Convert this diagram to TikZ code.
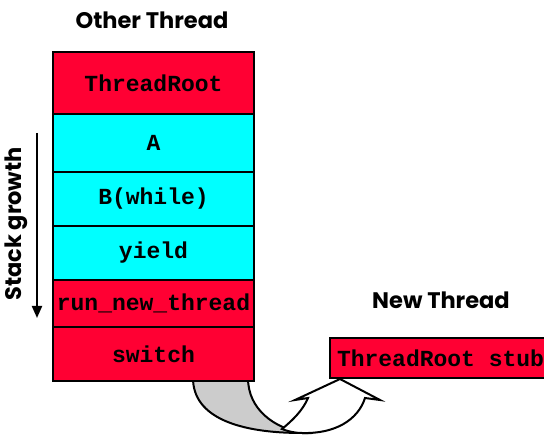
\documentclass[tikz,border=0pt]{standalone}
\usepackage{fontspec}
\setmonofont{Liberation Mono}
\newfontfamily\labelfont{Poppins}
\usetikzlibrary{arrows.meta}
\definecolor{stackred}{RGB}{255,0,51}
\definecolor{stackcyan}{RGB}{0,255,255}
\definecolor{foldgray}{RGB}{204,204,204}
\begin{document}
\begin{tikzpicture}[x=1pt,y=-1pt,
  frame/.style={draw=black, line width=2.5pt, inner sep=0pt, minimum width=201pt,
    font=\ttfamily\bfseries\fontsize{23}{25}\selectfont},
  redframe/.style={frame, fill=stackred},
  cyanframe/.style={frame, fill=stackcyan},
  heading/.style={font=\labelfont\bfseries\fontsize{22.5}{24}\selectfont},
  blockarrow/.style={draw=black, line width=2pt, line join=miter}
]
\useasboundingbox (0,0) rectangle (544,435);
\clip (0,0) rectangle (544,435);

% headings
\node[heading] (other) at (152,20) {Other Thread};
\node[heading] (new) at (441,300) {New Thread};
\node[heading, rotate=90] (sg) at (16.5,224) {Stack growth};

% stack growth arrow
\coordinate (sgtop) at (37,133);
\coordinate (sgbot) at (37,318);
\draw[line width=2pt, -{Triangle[length=12pt,width=10pt]}] (sgtop) -- (sgbot);

% curved block arrow (drawn first, below boxes)
\draw[blockarrow, fill=foldgray]
  (193,378) .. controls (193,418) and (240,433) .. (302,433)
  .. controls (275,428) and (248,410) .. (248,378) -- cycle;
\draw[blockarrow, fill=white]
  (282,429) .. controls (293,420) and (303,410) .. (308,398)
  -- (295,400) -- (340,379) -- (380,400) -- (365,398)
  .. controls (358,420) and (335,434) .. (302,433)
  .. controls (294,433) and (287,431) .. (282,429) -- cycle;

% stack
\node[redframe,  minimum height=62pt] (tr)  at (153.5,83)    {ThreadRoot};
\node[cyanframe, minimum height=58pt] (a)   at (153.5,143)   {A};
\node[cyanframe, minimum height=54pt] (b)   at (153.5,199)   {B(while)};
\node[cyanframe, minimum height=54pt] (y)   at (153.5,253)   {yield};
\node[redframe,  minimum height=47pt] (rnt) at (153.5,303.5) {run\_new\_thread};
\node[redframe,  minimum height=54pt] (sw)  at (153.5,354)   {switch};

% new thread stub
\node[redframe, minimum height=40pt, minimum width=0pt, text width=216pt, inner xsep=7pt, align=left] (stub) at (445,358) {\spaceskip=0.6em\relax ThreadRoot stub};
\end{tikzpicture}
\end{document}
